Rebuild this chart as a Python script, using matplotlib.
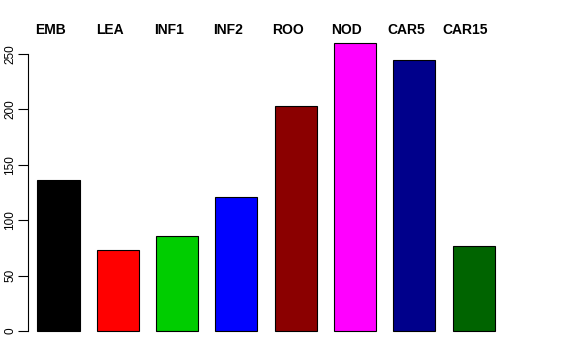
import matplotlib
matplotlib.use('Agg')
import matplotlib.pyplot as plt
import numpy as np

# values
groups = ['EMB', 'LEA', 'INF1', 'INF2', 'ROO', 'NOD', 'CAR5', 'CAR15']
counts = [136, 73, 86, 121, 203, 260, 245, 77]
bar_colors = ['#000000', '#FF0000', '#00CD00', '#0000FF',
              '#8B0000', '#FF00FF', '#00008B', '#006400']
yticks = [0, 50, 100, 150, 200, 250]

plt.rcParams['font.family'] = ['Liberation Sans', 'DejaVu Sans']

fig = plt.figure(figsize=(5.76, 3.6), dpi=100)
ax = fig.add_axes([28 / 576, 0.0486, (560 - 28) / 576, 0.9128 - 0.0486])

x = np.arange(len(groups))
ax.bar(x, counts, width=0.71, color=bar_colors, edgecolor='black', linewidth=0.8)

ax.set_xlim(-0.514, 8.457)
ax.set_ylim(-10.4, 270.4)

# R-style axis: only the left one, spanning the ticks
for side in ['top', 'right', 'bottom']:
    ax.spines[side].set_visible(False)
ax.spines['left'].set_bounds(0, 250)
ax.spines['left'].set_linewidth(0.8)
ax.set_xticks([])
ax.set_yticks(yticks)
ax.set_yticklabels([str(t) for t in yticks], rotation=90, va='center', fontsize=8.5)
ax.tick_params(axis='y', length=7, width=0.8, pad=1.5)

# group names above the bars
for xi, name in zip(x, groups):
    ax.text(xi - 0.135, 268, name, ha='center', va='baseline',
            fontsize=10, fontweight='bold', clip_on=False)

fig.savefig('out.png', dpi=100)
